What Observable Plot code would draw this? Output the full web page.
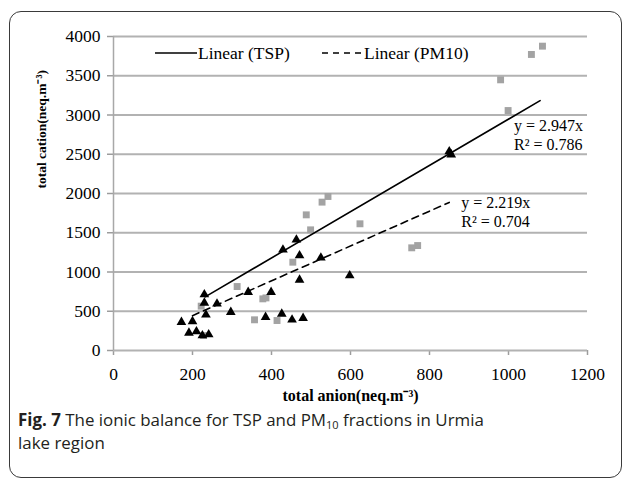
<!DOCTYPE html>
<html>
<head>
<meta charset="utf-8">
<script src="https://cdn.jsdelivr.net/npm/d3@7"></script>
<script src="https://cdn.jsdelivr.net/npm/@observablehq/plot@0.6"></script>
<style>
  body { margin: 0; background: #fff; }
  #wrap { position: relative; width: 629px; height: 480px; overflow: hidden; background: #fff; }
  #frame { position: absolute; left: 9px; top: 11px; width: 613px; height: 467px; border: 1.5px solid #3a3a3a; border-radius: 12px; box-sizing: border-box; }
  #chart { position: absolute; left: 0; top: 0; }
  #legend { position: absolute; left: 0; top: 0; }
  #caption { position: absolute; left: 18px; top: 408px; font-family: "Open Sans", sans-serif; font-size: 16.9px; line-height: 23px; color: #231f20; }
  #caption b { font-weight: 700; }
  #caption sub { font-size: 11px; vertical-align: -3px; line-height: 0; }
  svg g[aria-label="x-axis tick"] path, svg g[aria-label="y-axis tick"] path,
  svg g[aria-label="x-axis"] .tick line, svg g[aria-label="y-axis"] .tick line { stroke: #9c9c9c; stroke-width: 1.5; }
</style>
</head>
<body>
<div id="wrap">
  <div id="frame"></div>
  <div id="chart"></div>
  <svg id="legend" width="629" height="80"></svg>
  <div id="caption"><b>Fig. 7</b> The ionic balance for TSP and PM<sub>10</sub> fractions in Urmia<br>lake region</div>
</div>
<script>
// ---- data ----
const tspAnion  = [1086, 1058, 980, 999, 543, 528, 488, 624, 499, 454, 770, 755, 313, 378, 386, 357, 414, 222, 228];
const tspCation = [3877, 3771, 3448, 3057, 1962, 1890, 1728, 1614, 1537, 1125, 1337, 1308, 815, 658, 670, 391, 382, 565, 190];
const pm10Anion  = [172, 200, 191, 210, 225, 241, 230, 230, 262, 234, 297, 341, 399, 385, 426, 452, 480, 429, 463, 471, 525, 471, 598, 850, 855];
const pm10Cation = [361, 370, 225, 242, 191, 204, 713, 607, 595, 455, 488, 743, 743, 424, 467, 391, 412, 1283, 1410, 1210, 1181, 900, 955, 2535, 2495];
const fitNames  = ["TSP", "PM10"];
const fitSlopes = [2.947, 2.219];
const fitR2     = ["0.786", "0.704"];
const fitStart  = [232, 200];
const fitEnd    = [1080, 850];
const xTicks = [0, 200, 400, 600, 800, 1000, 1200];
const yTicks = [0, 500, 1000, 1500, 2000, 2500, 3000, 3500, 4000];

const tsp = tspAnion.map((x, i) => ({x, y: tspCation[i]}));
const pm10 = pm10Anion.map((x, i) => ({x, y: pm10Cation[i]}));
const fits = fitNames.map((name, i) => ({name, slope: fitSlopes[i], r2: fitR2[i], x0: fitStart[i], x1: fitEnd[i]}));
const fitLine = f => [{x: f.x0, y: f.slope * f.x0}, {x: f.x1, y: f.slope * f.x1}];

// label offsets (styling only)
const labelStyle = {TSP: {dx: -26, dy: 25, dash: null}, PM10: {dx: 12, dy: 0, dash: "7,5"}};

const marks = [
  Plot.ruleY(yTicks, {stroke: "#b2b2b2", strokeWidth: 2}),
  Plot.ruleX([0], {stroke: "#a8a8a8", strokeWidth: 1.5}),
  Plot.dot(tsp, {x: "x", y: "y", symbol: "square", r: 3.9, fill: "#a3a3a3", stroke: "none"}),
  Plot.dot(pm10, {x: "x", y: "y", symbol: "triangle", r: 3.6, fill: "#000", stroke: "none"})
];
for (const f of fits) {
  const s = labelStyle[f.name];
  marks.push(Plot.line(fitLine(f), {x: "x", y: "y", stroke: "#000", strokeWidth: 1.6, strokeDasharray: s.dash}));
  const end = [{x: f.x1, y: f.slope * f.x1}];
  marks.push(Plot.text(end, {x: "x", y: "y", text: () => `y = ${f.slope}x`, textAnchor: "start", dx: s.dx, dy: s.dy, fontSize: 16, fill: "#000"}));
  marks.push(Plot.text(end, {x: "x", y: "y", text: () => `R² = ${f.r2}`, textAnchor: "start", dx: s.dx, dy: s.dy + 19, fontSize: 16, fill: "#000"}));
}
marks.push(Plot.text(["total cation(neq.m⁻³)"], {frameAnchor: "left", text: d => d, rotate: -90, dx: -72, dy: -5, fontSize: 13.5, fontWeight: "bold", fill: "#000"}));
marks.push(Plot.text(["total anion(neq.m⁻³)"], {frameAnchor: "bottom", text: d => d, dy: 50, fontSize: 16, fontWeight: "bold", fill: "#000"}));

const chart = Plot.plot({
  width: 629,
  height: 410,
  marginLeft: 113,
  marginRight: 42,
  marginTop: 36,
  marginBottom: 60,
  style: {fontFamily: "'Liberation Serif', 'Times New Roman', serif", fontSize: "17.5px", color: "#000", background: "transparent", overflow: "visible"},
  x: {domain: [0, 1200], ticks: xTicks, tickSize: 5, tickPadding: 12, label: null, tickFormat: d => String(d)},
  y: {domain: [0, 4000], ticks: yTicks, tickSize: 6, tickPadding: 7, label: null, tickFormat: d => String(d)},
  marks
});
document.getElementById("chart").appendChild(chart);

// legend
const lg = d3.select("#legend");
const legendItems = [
  {label: "Linear (TSP)", x0: 155, x1: 197, dash: null},
  {label: "Linear (PM10)", x0: 322, x1: 363, dash: "6,5"}
];
for (const it of legendItems) {
  lg.append("line").attr("x1", it.x0).attr("x2", it.x1).attr("y1", 53).attr("y2", 53)
    .attr("stroke", "#000").attr("stroke-width", 1.6).attr("stroke-dasharray", it.dash);
  lg.append("text").attr("x", it.x1 + 1).attr("y", 53).attr("dy", "0.35em")
    .attr("font-family", "'Liberation Serif', serif").attr("font-size", 17.5).text(it.label);
}
</script>
</body>
</html>
